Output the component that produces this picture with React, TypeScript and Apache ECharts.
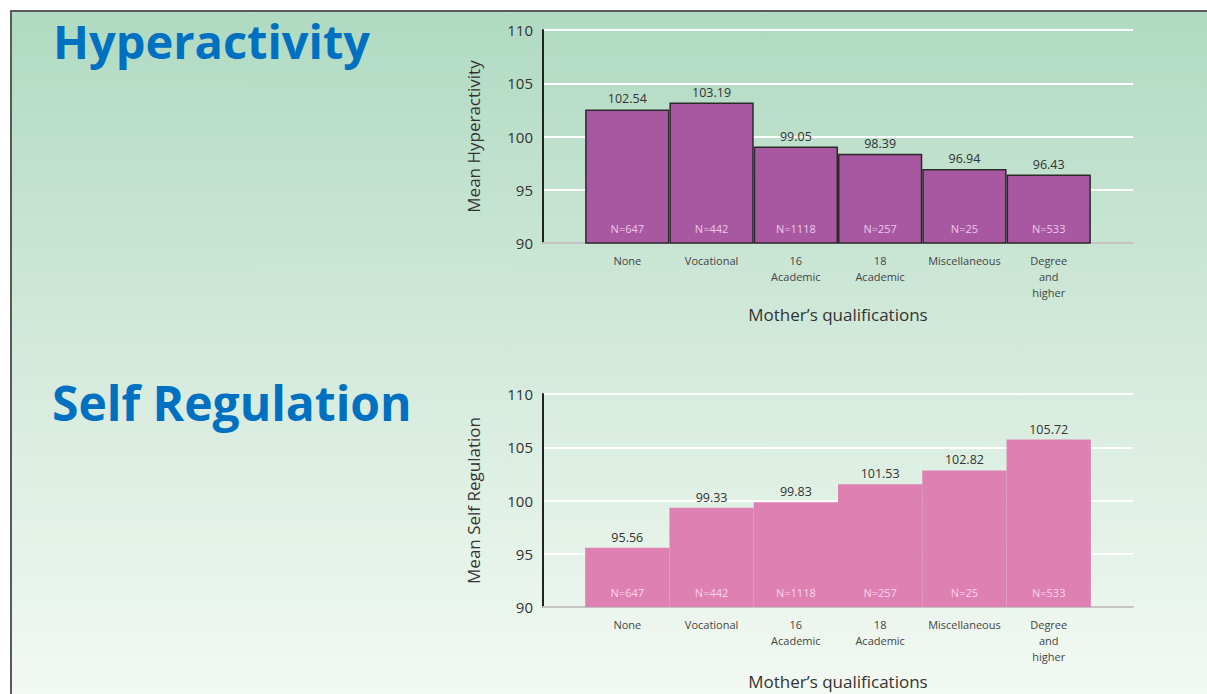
import React, { useEffect, useRef } from "react";
import * as echarts from "echarts";

const categories = ["", "None", "Vocational", "16\nAcademic", "18\nAcademic", "Miscellaneous", "Degree\nand\nhigher", ""];
const hyperactivity = [null, 102.54, 103.19, 99.05, 98.39, 96.94, 96.43, null];
const selfRegulation = [null, 95.56, 99.33, 99.83, 101.53, 102.82, 105.72, null];
const sampleSizes = [null, 647, 442, 1118, 257, 25, 533, null];
const yTicks = [90, 95, 100, 105, 110];

const FONT = "'Open Sans', 'Noto Sans', sans-serif";

function makeAxes(gridIndex: number, yName: string, xNameGap: number) {
  const xAxis = {
    type: "category",
    gridIndex,
    data: categories,
    boundaryGap: false,
    axisTick: { show: false },
    axisLine: { show: true, lineStyle: { color: "#c4c4c4", width: 2 } },
    axisLabel: {
      interval: 0,
      margin: 9,
      color: "#444",
      fontSize: 11,
      lineHeight: 16,
      fontFamily: FONT,
      verticalAlign: "top",
    },
    name: "Mother\u2019s qualifications",
    nameLocation: "middle",
    nameGap: xNameGap,
    nameTextStyle: { color: "#333", fontSize: 17, fontFamily: FONT },
    splitLine: { show: false },
  };
  const yAxis = {
    type: "value",
    gridIndex,
    min: yTicks[0],
    max: yTicks[yTicks.length - 1],
    interval: 5,
    axisLine: { show: true, lineStyle: { color: "#222", width: 2 } },
    axisTick: { show: false },
    axisLabel: { color: "#333", fontSize: 15, margin: 10, fontFamily: FONT },
    splitLine: { show: true, lineStyle: { color: "#ffffff", width: 2 } },
    name: yName,
    nameLocation: "middle",
    nameGap: 61,
    nameTextStyle: { color: "#333", fontSize: 17, fontFamily: FONT },
  };
  return { xAxis, yAxis };
}

function makeSeries(idx: number, values: (number | null)[], color: string, bordered: boolean, nColor: string) {
  return [
    {
      type: "bar",
      xAxisIndex: idx,
      yAxisIndex: idx,
      data: values.map((v) => (v === null ? "-" : v)),
      barCategoryGap: "0%",
      barGap: "-100%",
      itemStyle: {
        color,
        borderColor: bordered ? "#2a2a2a" : color,
        borderWidth: bordered ? 1.5 : 0,
      },
      label: {
        show: true,
        position: "top",
        distance: 4,
        color: "#333",
        fontSize: 12.5,
        fontFamily: FONT,
        formatter: (p: any) => Number(p.value).toFixed(2),
      },
      z: 2,
    },
    {
      type: "bar",
      xAxisIndex: idx,
      yAxisIndex: idx,
      data: values.map((v) => (v === null ? "-" : v)),
      barCategoryGap: "0%",
      barGap: "-100%",
      silent: true,
      itemStyle: { color: "rgba(0,0,0,0)", borderWidth: 0 },
      label: {
        show: true,
        position: "insideBottom",
        distance: 9,
        color: nColor,
        fontSize: 11,
        fontFamily: FONT,
        formatter: (p: any) => "N=" + sampleSizes[p.dataIndex],
      },
      z: 3,
    },
  ];
}

export default function App() {
  const ref = useRef<HTMLDivElement>(null);
  useEffect(() => {
    if (!ref.current) return;
    const chart = echarts.init(ref.current, null, { renderer: "svg" });
    const a1 = makeAxes(0, "Mean Hyperactivity", 63);
    const a2 = makeAxes(1, "Mean Self Regulation", 66);
    chart.setOption({
      animation: false,
      grid: [
        { left: 543, top: 30, width: 590, height: 213 },
        { left: 543, top: 394, width: 590, height: 213 },
      ],
      xAxis: [a1.xAxis, a2.xAxis],
      yAxis: [a1.yAxis, a2.yAxis],
      graphic: [
        {
          type: "rect",
          z: -10,
          shape: { x: 11, y: 11, width: 1220, height: 700 },
          style: {
            fill: new echarts.graphic.LinearGradient(0, 0, 0, 1, [
              { offset: 0, color: "#b0dac2" },
              { offset: 0.5, color: "#d4eadc" },
              { offset: 1, color: "#f4faf4" },
            ]),
            stroke: "#5a5a5a",
            lineWidth: 2,
          },
        },
        {
          type: "text",
          left: 53,
          top: 17,
          style: {
            text: "Hyperactivity",
            fill: "#0070c0",
            font: `bold 47px ${FONT}`,
          },
        },
        {
          type: "text",
          left: 52,
          top: 378,
          style: {
            text: "Self Regulation",
            fill: "#0070c0",
            font: `bold 48px ${FONT}`,
          },
        },
      ],
      series: [
        ...makeSeries(0, hyperactivity, "#a858a0", true, "#ecc8ec"),
        ...makeSeries(1, selfRegulation, "#de80b2", false, "#fbd6ea"),
      ],
    });
    return () => chart.dispose();
  }, []);
  return (
    <div
      ref={ref}
      style={{ position: "absolute", left: 0, top: 0, width: 1207, height: 694 }}
    />
  );
}
